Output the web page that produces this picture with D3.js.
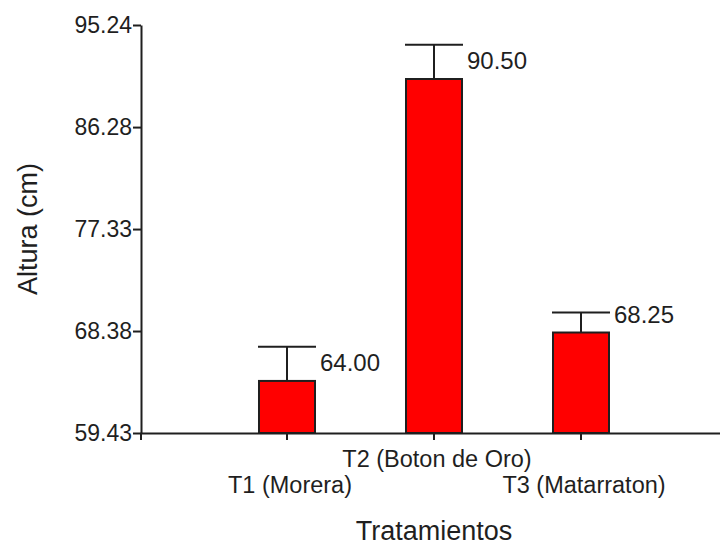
<!DOCTYPE html>
<html>
<head>
<meta charset="utf-8">
<script src="https://cdn.jsdelivr.net/npm/d3@7"></script>
<style>
  html, body { margin: 0; padding: 0; background: #fff; }
  svg { display: block; font-family: "Liberation Sans", Arial, sans-serif; }
</style>
</head>
<body>
<svg id="chart" width="720" height="545"></svg>
<script>
// Plant height per treatment (mean and standard error)
const categories = ["T1 (Morera)", "T2 (Boton de Oro)", "T3 (Matarraton)"];
const means = [64.00, 90.50, 68.25];
const errors = [3.00, 3.00, 1.75];
const yTicks = [59.43, 68.38, 77.33, 86.28, 95.24];

const ink = "#1f1f1f";
const svg = d3.select("#chart");

const y = d3.scaleLinear().domain([59.43, 95.24]).range([433, 25]);
const x = d3.scaleBand().domain(categories).range([140, 728])
  .paddingInner(0.619).paddingOuter(0.8095);

const data = categories.map((c, i) => ({ cat: c, mean: means[i], err: errors[i] }));

// Bars
svg.append("g").selectAll("rect").data(data).join("rect")
  .attr("x", d => x(d.cat))
  .attr("y", d => y(d.mean))
  .attr("width", x.bandwidth())
  .attr("height", d => y(59.43) - y(d.mean))
  .attr("fill", "#ff0000")
  .attr("stroke", ink)
  .attr("stroke-width", 2);

// Error bars (upper whisker with cap)
const eb = svg.append("g").attr("stroke", ink).attr("stroke-width", 2);
eb.selectAll("line.stem").data(data).join("line").attr("class", "stem")
  .attr("x1", d => x(d.cat) + x.bandwidth() / 2)
  .attr("x2", d => x(d.cat) + x.bandwidth() / 2)
  .attr("y1", d => y(d.mean))
  .attr("y2", d => y(d.mean + d.err));
eb.selectAll("line.cap").data(data).join("line").attr("class", "cap")
  .attr("x1", d => x(d.cat) - 1)
  .attr("x2", d => x(d.cat) + x.bandwidth() + 1)
  .attr("y1", d => y(d.mean + d.err))
  .attr("y2", d => y(d.mean + d.err));

// Value labels
svg.append("g").selectAll("text").data(data).join("text")
  .attr("x", d => x(d.cat) + x.bandwidth() + 5)
  .attr("y", d => y(d.mean) - 10)
  .attr("font-size", 24)
  .attr("fill", ink)
  .text(d => d3.format(".2f")(d.mean));

// X axis
const xAxis = svg.append("g").attr("transform", `translate(0,${y(59.43)})`)
  .call(d3.axisBottom(x).tickSize(7).tickSizeOuter(0).tickFormat(""));
xAxis.select(".domain").attr("stroke", ink).attr("stroke-width", 2);
xAxis.selectAll(".tick line").attr("stroke", ink).attr("stroke-width", 2);

// Staggered category labels
svg.append("g").selectAll("text").data(data).join("text")
  .attr("x", d => x(d.cat) + x.bandwidth() / 2 + 3)
  .attr("y", (d, i) => i % 2 === 1 ? 467 : 493)
  .attr("text-anchor", "middle")
  .attr("font-size", 23.5)
  .attr("fill", ink)
  .text(d => d.cat);

// Y axis
const yAxis = svg.append("g").attr("transform", "translate(141,0)")
  .call(d3.axisLeft(y).tickValues(yTicks).tickSize(8).tickSizeOuter(0)
    .tickFormat(d3.format(".2f")));
yAxis.select(".domain").attr("stroke", ink).attr("stroke-width", 2);
yAxis.selectAll(".tick line").attr("stroke", ink).attr("stroke-width", 2);
yAxis.selectAll(".tick text").attr("font-size", 23).attr("fill", ink)
  .attr("x", -9).attr("font-family", "Liberation Sans, Arial, sans-serif");
// axis line continues slightly below the baseline
svg.append("line")
  .attr("x1", 141).attr("x2", 141)
  .attr("y1", y(59.43)).attr("y2", y(59.43) + 7)
  .attr("stroke", ink).attr("stroke-width", 2);

// Axis titles
svg.append("text")
  .attr("x", 434).attr("y", 540)
  .attr("text-anchor", "middle")
  .attr("font-size", 27)
  .attr("fill", ink)
  .text("Tratamientos");
svg.append("text")
  .attr("transform", `translate(37,${(y(59.43) + y(95.24)) / 2}) rotate(-90)`)
  .attr("text-anchor", "middle")
  .attr("font-size", 27)
  .attr("fill", ink)
  .text("Altura (cm)");
</script>
</body>
</html>
